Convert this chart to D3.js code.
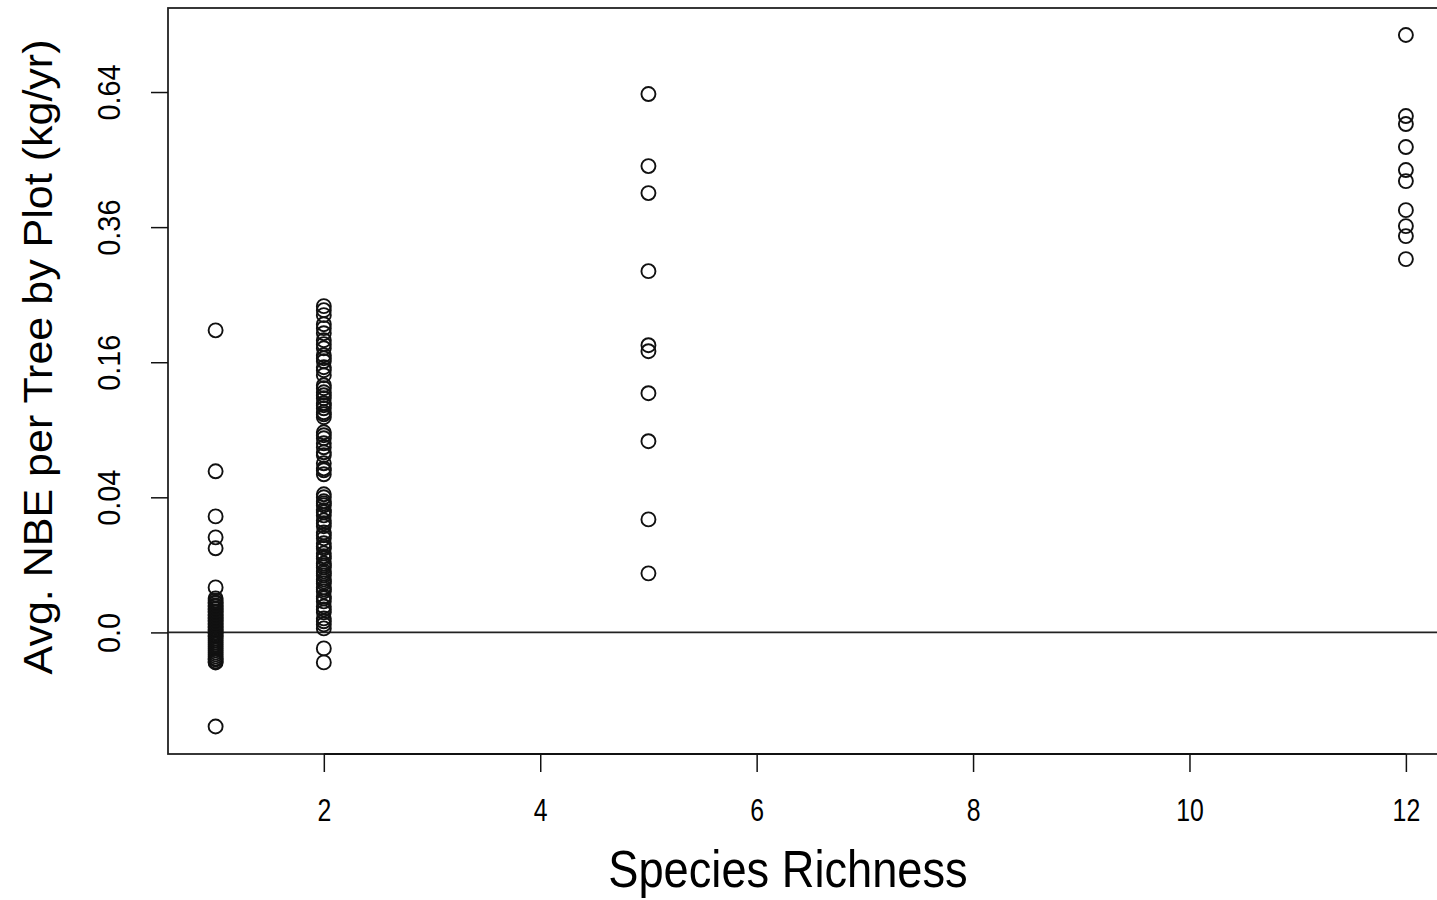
<!DOCTYPE html>
<html>
<head>
<meta charset="utf-8">
<script src="https://cdn.jsdelivr.net/npm/d3@7"></script>
<style>
  html, body { margin: 0; padding: 0; background: #fff; }
  svg { display: block; }
  text { font-family: "Liberation Sans", Arial, sans-serif; fill: #000; }
</style>
</head>
<body>
<svg id="chart" width="1437" height="900"></svg>
<script>
// Average NBE per tree by plot (kg/yr), grouped by species richness of the plot
const richness1 = [0.200, 0.0569, 0.0295, 0.0198, 0.0155, 0.00444,
  0.00254, 0.00225, 0.00198, 0.00185, 0.00160, 0.00148, 0.00126, 0.00116,
  0.00097, 0.00088, 0.00071, 0.00063, 0.00049, 0.00043, 0.00032, 0.00027,
  0.00018, 0.00014, 0.000079, 0.000055, 0.00002, 0.000009, 0, -0.000002,
  -0.00002, -0.000035, -0.000079, -0.00014, -0.00022, -0.00032, -0.00043,
  -0.00056, -0.00071, -0.00088, -0.00106, -0.00126, -0.00148, -0.0016,
  -0.00185, -0.00198, -0.0194];
const richness2 = [0.2333, 0.2276, 0.2206, 0.2082, 0.2029, 0.1962, 0.1871,
  0.1821, 0.1770, 0.1684, 0.1648, 0.1612, 0.1541, 0.1507, 0.1450, 0.1339,
  0.1307, 0.1264, 0.1233, 0.1202, 0.1151, 0.1131, 0.1101, 0.1062, 0.1043,
  0.1015, 0.0878, 0.0852, 0.0826, 0.0784, 0.0751, 0.0711, 0.0688, 0.0627,
  0.0590, 0.0576, 0.0548,
  0.0418, 0.0400, 0.0377, 0.0365, 0.0354, 0.0327, 0.0316, 0.0300, 0.0275,
  0.0261, 0.0247, 0.0219, 0.0207, 0.0194, 0.0174, 0.0162, 0.0155, 0.0137,
  0.0127, 0.0120, 0.0104, 0.00985, 0.00927, 0.00817, 0.00764, 0.00713,
  0.00616, 0.00571, 0.00527, 0.00444, 0.00406, 0.00369, 0.00284, 0.00254,
  0.00211, 0.00148, 0.00116, 0.00088, 0.00043, 0.00027, 0.00014, 0.000035,
  -0.00056, -0.00197];
const richness5 = [0.6352, 0.4766, 0.4230, 0.2860, 0.1808, 0.1733, 0.1254,
  0.0801, 0.0280, 0.00764];
const richness12 = [0.7822, 0.5844, 0.5664, 0.5163, 0.4685, 0.4464, 0.3908,
  0.3618, 0.3442, 0.3054];

const groups = [
  { richness: 1, values: richness1 },
  { richness: 2, values: richness2 },
  { richness: 5, values: richness5 },
  { richness: 12, values: richness12 }
];

const xTicks = [2, 4, 6, 8, 10, 12];
const yTicks = [0, 0.04, 0.16, 0.36, 0.64];
const yTickLabels = ["0.0", "0.04", "0.16", "0.36", "0.64"];

const xTitle = "Species Richness";
const yTitle = "Avg.  NBE per Tree by Plot (kg/yr)";

const points = groups.flatMap(g => g.values.map(v => ({ x: g.richness, y: v })));

// Plot region
const plotLeft = 168, plotRight = 1453.5, plotTop = 8, plotBottom = 754;

const x = d3.scaleLinear().domain([0.56, 12.44]).range([plotLeft, plotRight]);
// signed square-root axis
const y = d3.scalePow().exponent(0.5).domain([-0.0324, 0.8545]).range([plotBottom, plotTop]);

const svg = d3.select("#chart");

// reference line at zero
svg.append("line")
  .attr("x1", plotLeft).attr("x2", plotRight)
  .attr("y1", y(0)).attr("y2", y(0))
  .attr("stroke", "#222").attr("stroke-width", 1.6);

// points
svg.append("g")
  .selectAll("circle")
  .data(points)
  .join("circle")
  .attr("cx", d => x(d.x))
  .attr("cy", d => y(d.y))
  .attr("r", 7)
  .attr("fill", "none")
  .attr("stroke", "#111")
  .attr("stroke-width", 1.9);

// frame
svg.append("rect")
  .attr("x", plotLeft).attr("y", plotTop)
  .attr("width", plotRight - plotLeft).attr("height", plotBottom - plotTop)
  .attr("fill", "none").attr("stroke", "#222").attr("stroke-width", 1.8);

// x axis: line runs only between the first and last tick
const xAxis = d3.axisBottom(x).tickValues(xTicks).tickSize(18).tickSizeOuter(0)
  .tickFormat(d3.format("d"));
const gx = svg.append("g").attr("transform", `translate(0,${plotBottom})`).call(xAxis);
gx.select(".domain").remove();
gx.append("line")
  .attr("x1", x(xTicks[0])).attr("x2", x(xTicks[xTicks.length - 1]))
  .attr("stroke", "#111").attr("stroke-width", 2);
gx.selectAll(".tick line").attr("stroke", "#111").attr("stroke-width", 1.5);
gx.selectAll(".tick text")
  .attr("y", 0).attr("dy", 0)
  .attr("font-size", 31)
  .attr("font-family", "Liberation Sans, Arial, sans-serif")
  .attr("fill", "#000")
  .attr("transform", "translate(0,67) scale(0.8,1)");

// y axis
const yAxis = d3.axisLeft(y).tickValues(yTicks).tickSize(17).tickSizeOuter(0)
  .tickFormat((d, i) => yTickLabels[i]);
const gy = svg.append("g").attr("transform", `translate(${plotLeft},0)`).call(yAxis);
gy.select(".domain").remove();
gy.selectAll(".tick line").attr("stroke", "#111").attr("stroke-width", 1.5);
gy.selectAll(".tick text")
  .attr("x", 0).attr("y", 0).attr("dy", 0)
  .attr("text-anchor", "middle")
  .attr("font-size", 32)
  .attr("font-family", "Liberation Sans, Arial, sans-serif")
  .attr("fill", "#000")
  .attr("transform", "translate(-48,0) rotate(-90) scale(0.9,1)");

// axis titles
svg.append("text")
  .attr("transform", "translate(788,887) scale(0.87,1)")
  .attr("text-anchor", "middle")
  .attr("font-size", 52)
  .text(xTitle);

svg.append("text")
  .attr("transform", "translate(52,357) rotate(-90)")
  .attr("text-anchor", "middle")
  .attr("font-size", 40)
  .attr("textLength", 635)
  .attr("lengthAdjust", "spacingAndGlyphs")
  .text(yTitle);
</script>
</body>
</html>
